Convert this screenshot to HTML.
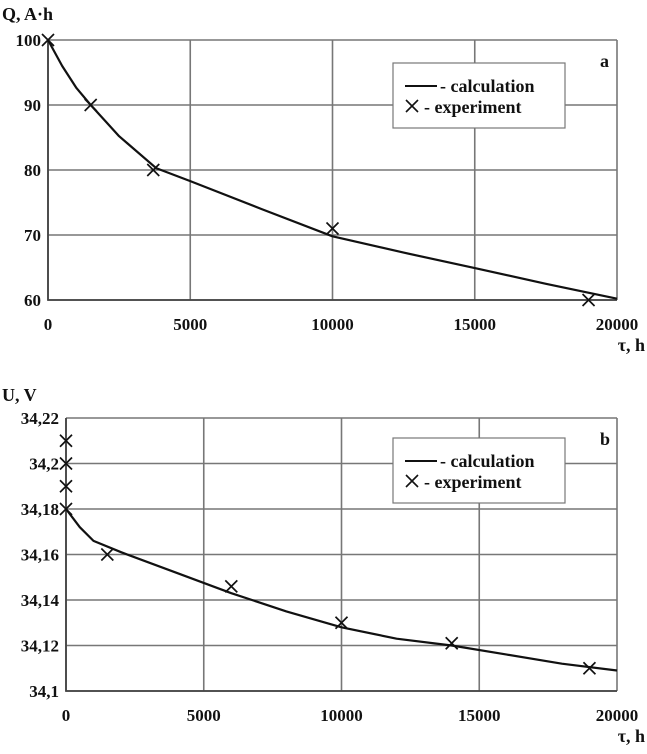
<!DOCTYPE html>
<html><head><meta charset="utf-8"><style>
html,body{margin:0;padding:0;background:#fff;width:647px;height:754px;overflow:hidden}
svg{display:block}
text{font-family:"Liberation Serif",serif;font-weight:bold;fill:#111}
</style></head><body>
<svg id="svg" width="647" height="754" viewBox="0 0 647 754"></svg>
<script>
// Chart a data
const aXTicks = [0, 5000, 10000, 15000, 20000];
const aYTicks = [60, 70, 80, 90, 100];
const aCalcX = [0, 500, 1000, 1500, 2500, 3800, 5000, 7500, 10000, 12500, 15000, 17500, 20000];
const aCalcY = [100, 96, 92.6, 90, 85.2, 80.3, 78.3, 74, 69.8, 67.3, 64.9, 62.5, 60.2];
const aExpX = [0, 1500, 3700, 10000, 19000];
const aExpY = [100, 90, 80, 71, 60];
// Chart b data
const bXTicks = [0, 5000, 10000, 15000, 20000];
const bYTicks = [34.1, 34.12, 34.14, 34.16, 34.18, 34.2, 34.22];
const bYLabels = ["34,1", "34,12", "34,14", "34,16", "34,18", "34,2", "34,22"];
const bCalcX = [0, 250, 500, 1000, 2000, 4000, 6000, 8000, 10000, 12000, 14000, 16000, 18000, 20000];
const bCalcY = [34.18, 34.176, 34.172, 34.166, 34.161, 34.152, 34.143, 34.135, 34.128, 34.123, 34.12, 34.116, 34.112, 34.109];
const bExpX = [0, 0, 0, 0, 1500, 6000, 10000, 14000, 19000];
const bExpY = [34.21, 34.2, 34.19, 34.18, 34.16, 34.146, 34.13, 34.121, 34.11];

const NS = "http://www.w3.org/2000/svg";
const svg = document.getElementById('svg');
function el(tag, attrs, parent, txt) {
  const e = document.createElementNS(NS, tag);
  for (const k in attrs) e.setAttribute(k, attrs[k]);
  if (txt !== undefined) e.textContent = txt;
  (parent || svg).appendChild(e);
  return e;
}
function chart(cfg) {
  const g = el('g', {});
  
  
  const sx = v => cfg.x0 + (v - cfg.xmin) / (cfg.xmax - cfg.xmin) * (cfg.x1 - cfg.x0);
  const sy = v => cfg.y1 - (v - cfg.ymin) / (cfg.ymax - cfg.ymin) * (cfg.y1 - cfg.y0);
  cfg.xTicks.forEach(t => {
    const l = el('line', {x1: sx(t), x2: sx(t), y1: cfg.y0, y2: cfg.y1, stroke: '#777', 'stroke-width': 1.6}, g);
    
    
    const tx = el('text', {x: sx(t), y: cfg.y1 + 30, 'text-anchor': 'middle', 'font-size': 17}, g, String(t));
    
    
  });
  cfg.yTicks.forEach((t, i) => {
    const l = el('line', {x1: cfg.x0, x2: cfg.x1, y1: sy(t), y2: sy(t), stroke: '#777', 'stroke-width': 1.6}, g);
    
    
    const tx = el('text', {x: cfg.x0 - 7, y: sy(t) + 6, 'text-anchor': 'end', 'font-size': 17}, g, cfg.yLabels[i]);
    
    
  });
  const ax = el('path', {d: `M${cfg.x0},${cfg.y0}V${cfg.y1}H${cfg.x1}`, fill: 'none', stroke: '#444', 'stroke-width': 1.8}, g);
  
  
  let d = '';
  cfg.cx.forEach((v, i) => { d += (i ? 'L' : 'M') + sx(v).toFixed(1) + ',' + sy(cfg.cy[i]).toFixed(1); });
  const line = el('path', {d: d, fill: 'none', stroke: '#111', 'stroke-width': 2.2, 'stroke-linejoin': 'round'}, g);
  
  
  cfg.ex.forEach((v, i) => {
    const x = sx(v), y = sy(cfg.ey[i]), r = 6;
    const m = el('path', {d: `M${x-r},${y-r}L${x+r},${y+r}M${x-r},${y+r}L${x+r},${y-r}`, stroke: '#111', 'stroke-width': 1.7}, g);
    
    
  });
  const lg = el('g', {}, g);
  
  
  el('rect', {x: 393, y: cfg.ly, width: 172, height: 65, fill: '#fff', stroke: '#777', 'stroke-width': 1.2}, lg);
  el('line', {x1: 405, x2: 437, y1: cfg.ly + 23, y2: cfg.ly + 23, stroke: '#111', 'stroke-width': 2}, lg);
  el('text', {x: 440, y: cfg.ly + 29, 'font-size': 18}, lg, '- calculation');
  el('path', {d: `M406,${cfg.ly+37}L418,${cfg.ly+49}M406,${cfg.ly+49}L418,${cfg.ly+37}`, stroke: '#111', 'stroke-width': 1.6}, lg);
  el('text', {x: 424, y: cfg.ly + 50, 'font-size': 18}, lg, '- experiment');
  const pl = el('text', {x: 600, y: cfg.y0 + 27, 'font-size': 18}, g, cfg.panel);
  
  
  const yt = el('text', {x: 2, y: cfg.yTitleY, 'font-size': 18}, g, cfg.yTitle);
  
  
  const xt = el('text', {x: 645, y: cfg.y1 + 51, 'text-anchor': 'end', 'font-size': 18}, g, 'τ, h');
  
  
}
chart({name: 'chart-a', x0: 48, x1: 617, y0: 40, y1: 300, xmin: 0, xmax: 20000, ymin: 60, ymax: 100,
  xTicks: aXTicks, yTicks: aYTicks, yLabels: aYTicks.map(String), cx: aCalcX, cy: aCalcY, ex: aExpX, ey: aExpY,
  ly: 63, panel: 'a', yTitle: 'Q, A·h', yTitleY: 20});
chart({name: 'chart-b', x0: 66, x1: 617, y0: 418, y1: 691, xmin: 0, xmax: 20000, ymin: 34.1, ymax: 34.22,
  xTicks: bXTicks, yTicks: bYTicks, yLabels: bYLabels, cx: bCalcX, cy: bCalcY, ex: bExpX, ey: bExpY,
  ly: 438, panel: 'b', yTitle: 'U, V', yTitleY: 401});
</script>
</body></html>
